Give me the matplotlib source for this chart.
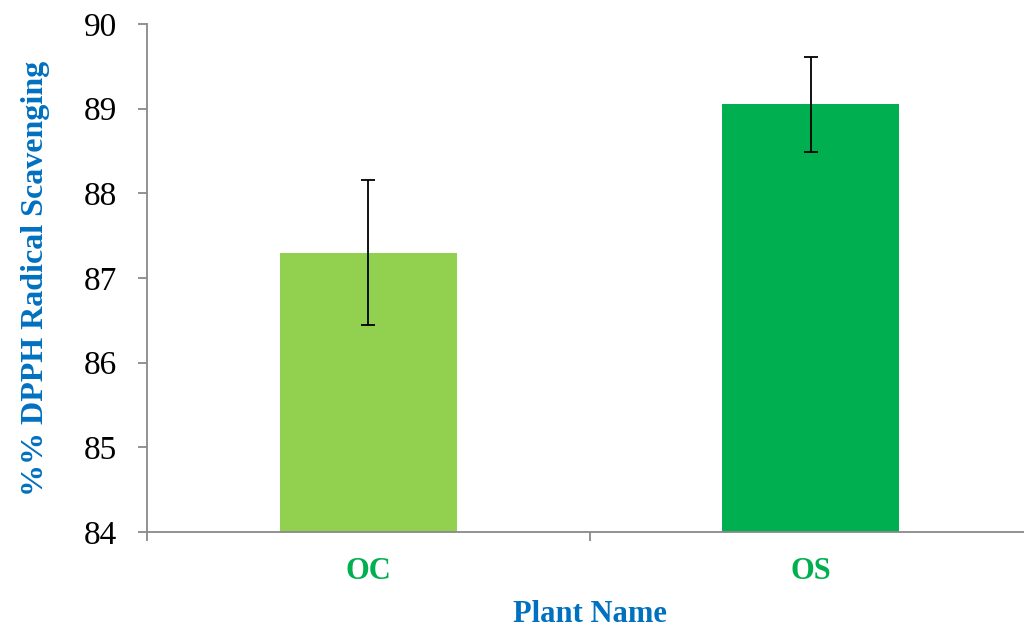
import matplotlib.pyplot as plt
import numpy as np

plt.rcParams['font.family'] = ['Liberation Serif', 'DejaVu Serif']

plants = ['OC', 'OS']
scavenging = [87.3, 89.05]
errors = [0.86, 0.56]
bar_colors = ['#92D050', '#00B050']

fig = plt.figure(figsize=(10.24, 6.3), dpi=100)
ax = fig.add_axes([0.1436, 0.1556, 0.8643, 0.8064])

x = np.arange(len(plants))
ax.bar(x, scavenging, width=0.4, color=bar_colors, zorder=2)
ax.errorbar(x, scavenging, yerr=errors, fmt='none', ecolor='black',
            elinewidth=1.3, capsize=5, capthick=1.3, zorder=3)

ax.set_xlim(-0.5, 1.5)
ax.set_ylim(84, 90)
ax.set_yticks(np.arange(84, 91, 1))

# category labels with boundary tick marks like excel
ax.set_xticks(x)
ax.set_xticklabels(plants, fontsize=22, fontweight='bold', color='#00B050')
ax.tick_params(axis='x', which='major', length=0, pad=18)
ax.set_xticks([-0.5, 0.5, 1.5], minor=True)
ax.tick_params(axis='x', which='minor', length=6.5, width=1.3, color='#898989')
ax.tick_params(axis='y', labelsize=24, length=6.5, width=1.3, color='#898989', pad=15)

for side in ['top', 'right']:
    ax.spines[side].set_visible(False)
for side in ['left', 'bottom']:
    ax.spines[side].set_color('#898989')
    ax.spines[side].set_linewidth(1.3)

ax.set_xlabel('Plant Name', fontsize=22, fontweight='bold', color='#0070C0', labelpad=10)
ax.set_ylabel('%% DPPH Radical Scavenging', fontsize=23, fontweight='bold', color='#0070C0', labelpad=24)

fig.savefig('out.png', dpi=100)
